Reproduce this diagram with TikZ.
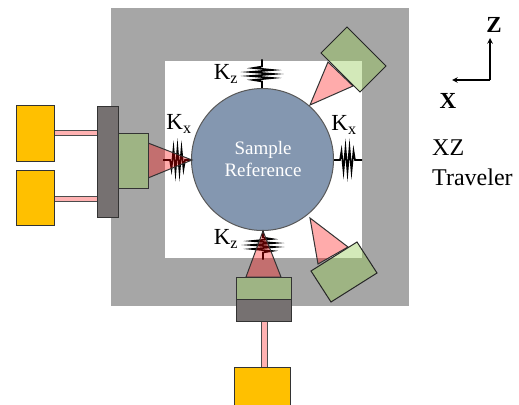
\documentclass[tikz,border=0pt]{standalone}
\usepackage{fontspec}
\setmainfont{Liberation Serif}
\definecolor{framegray}{HTML}{A6A6A6}
\definecolor{motoryellow}{HTML}{FFC000}
\definecolor{mountgray}{HTML}{767171}
\definecolor{samplefill}{HTML}{8497B0}
\definecolor{sensorgreen}{RGB}{147,202,80}
\tikzset{
  edgeline/.style={draw=black!80,line width=1pt},
  motor/.style={edgeline,fill=motoryellow},
  rod/.style={draw=black!70,line width=0.8pt,fill=red!30},
  mount/.style={edgeline,fill=mountgray},
  sensor/.style={draw=black!85,line width=1pt,fill=sensorgreen,fill opacity=0.4},
  solidsensor/.style={edgeline,fill=sensorgreen!40!framegray},
  beam/.style={draw=black!80,line width=1pt,fill=red,fill opacity=0.33},
  label/.style={inner sep=0pt,font=\fontsize{23}{25}\selectfont},
  kspring/.pic={
    \draw[line width=1.6pt,miter limit=20] (0,0) -- (7,0) -- (8.5,-9) -- (10.5,11) -- (12.5,-12) -- (14.5,12) -- (16.5,-12) -- (18.5,11) -- (20.5,-9) -- (22,0) -- (29,0);
  }
}
\begin{document}
\begin{tikzpicture}[x=1pt,y=-1pt]
\useasboundingbox (0,0) rectangle (519,404);
\clip (0,0) rectangle (519,404);

%frame and sample
\fill[framegray,draw=black!35] (111.5,8.5) rectangle (408.5,305);
\fill[white,draw=black!35] (164.5,60.5) rectangle (362,258);

%springs
\pic at (262,88.5) [rotate=90] {kspring};
\pic at (333,160) {kspring};
\pic at (192,160) [rotate=180] {kspring};
\pic at (263,230.5) [rotate=-90] {kspring};

\draw[fill=samplefill,draw=black!65,line width=1pt] (262.5,159.5) circle (71);
\node[align=center,text=white,inner sep=0pt,font=\fontsize{19}{22}\selectfont] (sample) at (263,159) {Sample\\Reference};

%left actuators
\draw[rod] (54,130) rectangle (97.5,135);
\draw[rod] (54,196) rectangle (97.5,201);
\draw[motor] (16.5,105) rectangle (54,161);
\draw[motor] (16.5,170) rectangle (54,225);
\draw[beam] (192,160) -- (148,143) -- (148,178) -- cycle;
\draw[mount] (97.5,106) rectangle (118.5,217);
\draw[solidsensor] (118.5,133) rectangle (148,188);

%bottom actuator
\draw[rod] (261,321) rectangle (267,368);
\draw[motor] (234.5,367.5) rectangle (290,410);
\draw[beam] (263,231) -- (246,277) -- (281,277) -- cycle;
\draw[solidsensor] (236,277) rectangle (291,299.5);
\draw[mount] (236,299.5) rectangle (291,321);

%angled sensors
\draw[beam] (310,105) -- (328,62) -- (353,86) -- cycle;
\draw[sensor] (321,53) -- (347,27) -- (386,66) -- (360,92) -- cycle;
\draw[beam] (310,218) -- (318,264) -- (348,247) -- cycle;
\draw[sensor] (311,271) -- (357,242) -- (377,273) -- (331,302) -- cycle;

%labels
\node[label] (kztop) at (226,74) {K\textsubscript{z}};
\node[label] (kzbot) at (226,239) {K\textsubscript{z}};
\node[label] (kxleft) at (179,124) {K\textsubscript{x}};
\node[label] (kxright) at (344,125) {K\textsubscript{x}};

%axes
\coordinate (origin) at (490,80);
\coordinate (zend) at (490,38);
\coordinate (xend) at (452,80);
\draw[-stealth,line width=1.5pt] (origin) -- (zend);
\draw[-stealth,line width=1.5pt] (origin) -- (xend);
\node[label,font=\fontsize{23}{25}\selectfont\bfseries] (zlabel) at (494,25) {Z};
\node[label,font=\fontsize{23}{25}\selectfont\bfseries] (xlabel) at (448,101) {X};
\node[label,align=left,anchor=west,font=\fontsize{24}{30}\selectfont] (traveler) at (432,163) {XZ\\Traveler};
\end{tikzpicture}
\end{document}
